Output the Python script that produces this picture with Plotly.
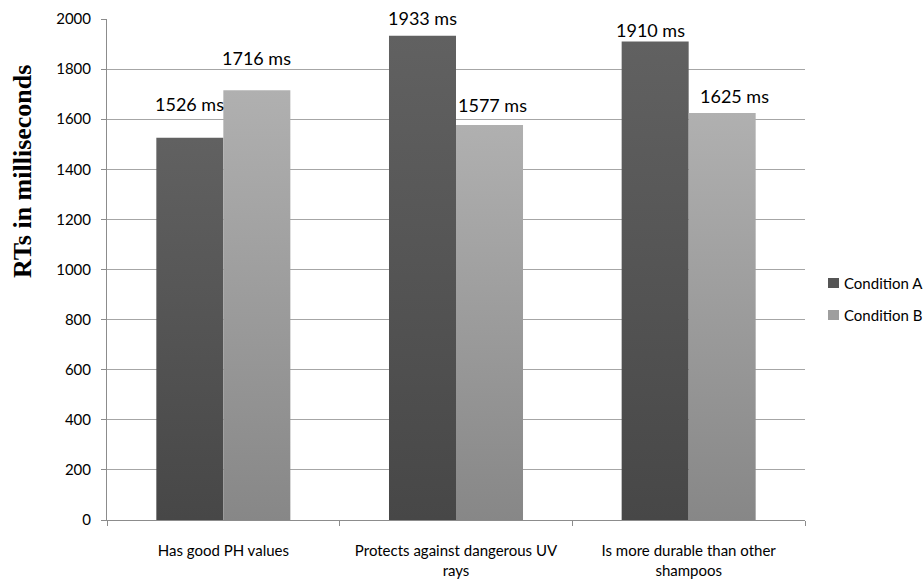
import plotly.graph_objects as go

# Response times per statement, two conditions
categories = ["Has good PH values",
              "Protects against dangerous UV<br>rays",
              "Is more durable than other<br>shampoos"]
condition_a = [1526, 1933, 1910]
condition_b = [1716, 1577, 1625]
series_names = ["Condition A", "Condition B"]

y_ticks = list(range(0, 2001, 200))

# style: per-bar gradient stops (bottom, top) and legend swatch colour
gradients = [("#474747", "#616161"), ("#878787", "#b0b0b0")]
swatches = ["#555555", "#9e9e9e"]
bar_w = 0.288
# label nudges in pixels (x, y above bar top) for [A, B] of each category
label_dx = [[0, 0], [0, 3], [-5, 12]]
label_dy = [[34, 32], [18, 20], [12, 17]]

# page geometry (pixels)
L, R, T, B = 107, 118, 19, 62
W, H = 923, 582
pw, ph = W - L - R, H - T - B


def px_x(x):
    return (x - L) / pw


def px_y(y):
    return (H - B - y) / ph


fig = go.Figure()
annotations = []
shapes = []
for s, (name, vals) in enumerate(zip(series_names, [condition_a, condition_b])):
    bottom, top = gradients[s]
    for i, v in enumerate(vals):
        x0 = i - bar_w if s == 0 else i
        x1 = x0 + bar_w
        fig.add_trace(go.Scatter(
            x=[x0, x1, x1, x0, x0], y=[0, 0, v, v, 0],
            mode="lines", line=dict(width=0), fill="toself",
            fillcolor=top,
            fillgradient=dict(type="vertical",
                              colorscale=[[0, bottom], [1, top]],
                              start=0, stop=v),
            name=name, showlegend=False, hoverinfo="skip"))
        annotations.append(dict(
            x=(x0 + x1) / 2, y=v, xref="x", yref="y",
            text=f"{v} ms", showarrow=False,
            xanchor="center", yanchor="middle",
            xshift=label_dx[i][s], yshift=label_dy[i][s],
            font=dict(family="Lato", size=18, color="#000000")))

    # legend entry: swatch + name
    cy = 283 + 32 * s
    shapes.append(dict(type="rect", xref="paper", yref="paper",
                       x0=px_x(828), x1=px_x(839),
                       y0=px_y(cy + 5), y1=px_y(cy - 5),
                       fillcolor=swatches[s], line=dict(width=0)))
    annotations.append(dict(
        x=px_x(842), y=px_y(cy), xref="paper", yref="paper",
        text=name, showarrow=False, xanchor="left", yanchor="middle",
        font=dict(family="Lato", size=15, color="#000000")))

annotations.append(dict(
    x=px_x(23), y=px_y(172), xref="paper", yref="paper",
    text="<b>RTs in milliseconds</b>",
    showarrow=False, textangle=-90, xanchor="center", yanchor="middle",
    font=dict(family="Liberation Serif", size=26, color="#000000")))

fig.update_layout(
    width=W, height=H,
    margin=dict(l=L, r=R, t=T, b=B, autoexpand=False),
    paper_bgcolor="white", plot_bgcolor="white",
    font=dict(family="Lato", size=15, color="#000000"),
    showlegend=False,
    annotations=annotations,
    shapes=shapes,
    xaxis=dict(range=[-0.5, 2.5], tickvals=[0, 1, 2], ticktext=categories,
               ticks="", showgrid=False, zeroline=False, automargin=False,
               showline=True, linecolor="#8c8c8c", linewidth=1,
               ticklabelstandoff=17,
               tickfont=dict(family="Lato", size=15, color="#000000"),
               minor=dict(tickvals=[-0.5, 0.5, 1.5, 2.5], ticks="outside",
                          ticklen=5, tickcolor="#8c8c8c", showgrid=False)),
    yaxis=dict(range=[0, 2000], tickvals=y_ticks, ticks="outside", ticklen=5,
               tickcolor="#8c8c8c", showgrid=True, gridcolor="#a6a6a6",
               gridwidth=1, zeroline=False, showline=True, automargin=False,
               linecolor="#8c8c8c", linewidth=1,
               ticklabelstandoff=7,
               tickfont=dict(family="Lato", size=15, color="#000000")),
)

fig.write_html("out.html")
